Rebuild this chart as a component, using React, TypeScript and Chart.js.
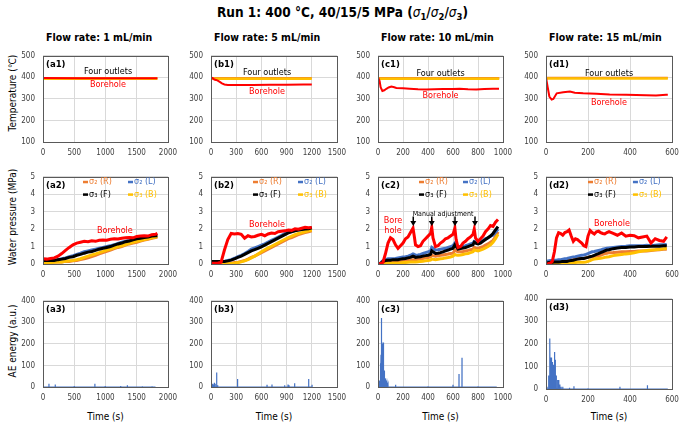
import React, { useEffect, useRef } from "react";
import { Chart, registerables } from "chart.js";

Chart.register(...registerables);

const FONT = '"DejaVu Sans Condensed", "DejaVu Sans", sans-serif';
const RED = "#FF0000";
const ORANGE = "#ED7D31";
const BLUE = "#4472C4";
const BLACK = "#000000";
const GOLD = "#FFC000";

// ---------------- Row 1: temperature (°C) ----------------
const a1OutletT = [0, 1830];
const a1OutletOrange = [396, 396];
const a1OutletGold = [394, 394];
const a1BoreT = [0, 600, 1200, 1830];
const a1Bore = [397, 396, 396, 396];

const b1OutletT = [0, 1200];
const b1OutletOrange = [397, 397];
const b1OutletGold = [394, 394];
const b1BoreT = [0, 20, 40, 60, 80, 100, 130, 160, 200, 300, 500, 700, 900, 1100, 1200];
const b1Bore = [400, 396, 390, 388, 385, 380, 372, 367, 365, 365, 365, 366, 366, 367, 367];

const c1OutletT = [0, 970];
const c1OutletOrange = [397, 397];
const c1OutletGold = [394, 394];
const c1BoreT = [0, 13, 21, 35, 50, 67, 85, 107, 130, 147, 200, 253, 320, 387, 450, 520, 600, 653, 720, 787, 850, 920, 968];
const c1Bore = [400, 383, 354, 337, 340, 347, 353, 357, 354, 351, 349, 347, 345, 344, 345, 346, 346, 347, 345, 344, 346, 347, 347];

const d1OutletT = [0, 580];
const d1OutletOrange = [398, 398];
const d1OutletGold = [395, 395];
const d1BoreT = [0, 8, 16, 27, 35, 51, 82, 114, 137, 177, 240, 303, 382, 477, 524, 572, 580];
const d1Bore = [400, 354, 311, 297, 300, 326, 331, 334, 329, 326, 324, 320, 319, 317, 316, 319, 319];

// ---------------- Row 2: water pressure (MPa) ----------------
const a2T = [0, 60, 120, 180, 240, 300, 360, 420, 480, 540, 600, 660, 720, 780, 840, 900, 960, 1020, 1080, 1140, 1200, 1260, 1320, 1380, 1440, 1500, 1560, 1620, 1680, 1740, 1800, 1830];
const a2Bore = [0.3, 0.28, 0.32, 0.35, 0.45, 0.6, 0.78, 0.95, 1.1, 1.2, 1.25, 1.3, 1.28, 1.33, 1.3, 1.36, 1.38, 1.36, 1.42, 1.45, 1.43, 1.48, 1.5, 1.52, 1.5, 1.58, 1.6, 1.62, 1.6, 1.68, 1.7, 1.75];
const a2S3F = [0.2, 0.2, 0.22, 0.2, 0.25, 0.28, 0.32, 0.38, 0.42, 0.5, 0.55, 0.62, 0.68, 0.72, 0.78, 0.85, 0.9, 0.95, 1.0, 1.08, 1.15, 1.2, 1.28, 1.32, 1.38, 1.45, 1.48, 1.52, 1.55, 1.6, 1.62, 1.62];
const a2S2L = [0.18, 0.18, 0.2, 0.2, 0.25, 0.3, 0.35, 0.42, 0.48, 0.55, 0.62, 0.7, 0.75, 0.8, 0.85, 0.9, 0.95, 1.0, 1.05, 1.1, 1.18, 1.25, 1.3, 1.35, 1.4, 1.45, 1.5, 1.55, 1.58, 1.62, 1.65, 1.65];
const a2S2R = [0.08, 0.1, 0.1, 0.12, 0.12, 0.12, 0.15, 0.15, 0.18, 0.2, 0.25, 0.3, 0.35, 0.42, 0.5, 0.58, 0.65, 0.72, 0.8, 0.88, 0.95, 1.0, 1.08, 1.15, 1.2, 1.25, 1.32, 1.38, 1.42, 1.48, 1.52, 1.55];
const a2S3B = [0.02, 0.05, 0.08, 0.1, 0.12, 0.12, 0.15, 0.18, 0.2, 0.25, 0.3, 0.38, 0.45, 0.52, 0.58, 0.65, 0.72, 0.8, 0.85, 0.92, 1.0, 1.05, 1.12, 1.18, 1.25, 1.3, 1.35, 1.4, 1.45, 1.5, 1.55, 1.58];

const b2T = [0, 40, 80, 120, 160, 200, 240, 280, 320, 360, 400, 440, 480, 520, 560, 600, 640, 680, 720, 760, 800, 840, 880, 920, 960, 1000, 1040, 1080, 1120, 1160, 1200];
const b2Bore = [0.05, 0.05, 0.05, 0.1, 0.8, 1.4, 1.75, 1.72, 1.75, 1.7, 1.48, 1.62, 1.55, 1.58, 1.65, 1.7, 1.62, 1.72, 1.78, 1.75, 1.85, 1.88, 1.9, 1.95, 1.93, 2.02, 2.0, 2.05, 2.1, 2.08, 2.1];
const b2S3F = [0.15, 0.15, 0.15, 0.15, 0.15, 0.18, 0.22, 0.3, 0.38, 0.45, 0.55, 0.65, 0.75, 0.82, 0.9, 0.98, 1.08, 1.18, 1.28, 1.38, 1.48, 1.58, 1.68, 1.78, 1.85, 1.9, 1.95, 1.98, 2.0, 2.02, 2.08];
const b2S2L = [0.12, 0.12, 0.12, 0.12, 0.15, 0.2, 0.25, 0.33, 0.42, 0.5, 0.6, 0.72, 0.85, 0.92, 1.0, 1.08, 1.15, 1.25, 1.35, 1.45, 1.55, 1.65, 1.75, 1.82, 1.88, 1.92, 1.95, 1.98, 2.0, 2.02, 2.05];
const b2S2R = [0.05, 0.05, 0.05, 0.05, 0.05, 0.05, 0.05, 0.08, 0.1, 0.15, 0.2, 0.28, 0.38, 0.45, 0.55, 0.65, 0.75, 0.85, 0.95, 1.05, 1.15, 1.25, 1.35, 1.45, 1.52, 1.6, 1.68, 1.75, 1.8, 1.85, 1.9];
const b2S3B = [0.0, 0.0, 0.0, 0.0, 0.0, 0.02, 0.03, 0.05, 0.08, 0.12, 0.18, 0.25, 0.35, 0.45, 0.58, 0.7, 0.82, 0.92, 1.02, 1.12, 1.22, 1.32, 1.42, 1.52, 1.6, 1.68, 1.75, 1.8, 1.85, 1.9, 1.95];

const c2T = [0, 20, 40, 60, 80, 100, 120, 140, 160, 180, 200, 220, 240, 260, 280, 290, 300, 320, 340, 360, 380, 400, 420, 430, 440, 460, 480, 500, 520, 540, 560, 580, 600, 615, 625, 640, 660, 680, 700, 720, 740, 760, 770, 780, 800, 820, 840, 860, 880, 900, 920, 940, 960];
const c2Bore = [0.02, 0.02, 0.1, 0.6, 1.2, 1.5, 1.4, 1.1, 0.9, 1.05, 1.2, 1.45, 1.55, 1.8, 2.05, 1.6, 1.1, 1.0, 1.05, 1.3, 1.45, 1.6, 1.75, 2.1, 1.5, 1.0, 1.05, 1.2, 1.3, 1.45, 1.5, 1.6, 1.7, 2.05, 1.4, 0.95, 1.0, 1.2, 1.3, 1.45, 1.55, 1.7, 2.0, 1.5, 1.3, 1.45, 1.6, 1.85, 2.0, 2.2, 2.15, 2.4, 2.55];
const c2S3F = [0.0, 0.02, 0.15, 0.2, 0.22, 0.22, 0.25, 0.25, 0.25, 0.28, 0.3, 0.32, 0.35, 0.38, 0.45, 0.42, 0.38, 0.4, 0.42, 0.45, 0.48, 0.5, 0.55, 0.75, 0.7, 0.6, 0.62, 0.65, 0.7, 0.75, 0.8, 0.85, 0.9, 1.1, 1.0, 0.85, 0.88, 0.92, 0.95, 1.0, 1.05, 1.1, 1.25, 1.2, 1.15, 1.2, 1.3, 1.4, 1.5, 1.6, 1.75, 1.95, 2.15];
const c2S2L = [0.02, 0.05, 0.2, 0.25, 0.3, 0.3, 0.3, 0.32, 0.35, 0.38, 0.4, 0.42, 0.45, 0.5, 0.58, 0.55, 0.5, 0.52, 0.55, 0.6, 0.65, 0.7, 0.75, 0.95, 0.9, 0.8, 0.82, 0.85, 0.88, 0.9, 0.95, 1.0, 1.05, 1.2, 1.1, 1.0, 1.0, 1.02, 1.05, 1.1, 1.15, 1.2, 1.3, 1.28, 1.25, 1.3, 1.35, 1.45, 1.5, 1.6, 1.65, 1.8, 2.0];
const c2S2R = [0.02, 0.03, 0.08, 0.1, 0.1, 0.1, 0.12, 0.13, 0.15, 0.16, 0.18, 0.19, 0.2, 0.22, 0.25, 0.25, 0.25, 0.27, 0.3, 0.32, 0.35, 0.37, 0.4, 0.5, 0.48, 0.45, 0.47, 0.5, 0.52, 0.55, 0.57, 0.6, 0.62, 0.8, 0.75, 0.7, 0.7, 0.72, 0.75, 0.78, 0.82, 0.85, 0.95, 0.92, 0.9, 0.95, 1.0, 1.08, 1.15, 1.25, 1.35, 1.55, 1.85];
const c2S3B = [0.0, 0.0, 0.02, 0.02, 0.03, 0.04, 0.05, 0.05, 0.05, 0.06, 0.08, 0.09, 0.1, 0.11, 0.12, 0.12, 0.12, 0.13, 0.15, 0.16, 0.18, 0.2, 0.22, 0.28, 0.27, 0.25, 0.27, 0.3, 0.32, 0.35, 0.37, 0.4, 0.45, 0.55, 0.52, 0.5, 0.52, 0.55, 0.58, 0.6, 0.65, 0.7, 0.8, 0.78, 0.75, 0.8, 0.85, 0.92, 1.0, 1.1, 1.25, 1.45, 1.7];

const d2T = [0, 10, 20, 30, 40, 50, 60, 70, 80, 90, 100, 110, 120, 130, 140, 150, 160, 170, 180, 190, 200, 210, 220, 230, 240, 250, 260, 270, 280, 290, 300, 320, 340, 360, 380, 400, 420, 440, 460, 480, 500, 520, 540, 560, 575];
const d2Bore = [0.0, 0.02, 0.05, 0.15, 0.7, 1.5, 1.8, 1.75, 1.65, 1.8, 1.85, 1.95, 1.6, 1.3, 1.45, 1.4, 1.3, 1.2, 1.05, 1.0, 1.6, 1.92, 1.8, 1.72, 1.85, 1.88, 1.8, 1.75, 1.72, 1.8, 1.85, 1.75, 1.65, 1.78, 1.6, 1.65, 1.62, 1.5, 1.55, 1.6, 1.2, 1.45, 1.35, 1.3, 1.55];
const d2S2L = [0.15, 0.18, 0.2, 0.2, 0.22, 0.22, 0.25, 0.25, 0.28, 0.3, 0.32, 0.35, 0.38, 0.4, 0.42, 0.45, 0.48, 0.5, 0.52, 0.55, 0.6, 0.65, 0.7, 0.72, 0.75, 0.78, 0.8, 0.85, 0.88, 0.9, 0.92, 0.95, 0.98, 1.0, 1.02, 1.05, 1.05, 1.05, 1.05, 1.08, 1.05, 1.08, 1.1, 1.1, 1.12];
const d2S3F = [0.05, 0.08, 0.1, 0.1, 0.12, 0.12, 0.12, 0.13, 0.15, 0.15, 0.15, 0.18, 0.2, 0.22, 0.25, 0.28, 0.3, 0.32, 0.32, 0.35, 0.38, 0.42, 0.45, 0.5, 0.55, 0.6, 0.65, 0.7, 0.75, 0.8, 0.82, 0.88, 0.92, 0.95, 0.95, 0.98, 0.98, 1.0, 1.0, 1.0, 1.02, 1.02, 1.02, 1.05, 1.05];
const d2S2R = [0.05, 0.06, 0.08, 0.1, 0.12, 0.15, 0.18, 0.2, 0.2, 0.22, 0.22, 0.25, 0.25, 0.27, 0.28, 0.3, 0.3, 0.32, 0.32, 0.35, 0.38, 0.4, 0.42, 0.44, 0.45, 0.48, 0.5, 0.55, 0.6, 0.62, 0.65, 0.66, 0.68, 0.7, 0.7, 0.72, 0.72, 0.74, 0.75, 0.75, 0.78, 0.8, 0.82, 0.85, 0.85];
const d2S3B = [0.0, 0.0, 0.02, 0.03, 0.03, 0.04, 0.05, 0.05, 0.05, 0.05, 0.06, 0.07, 0.08, 0.08, 0.09, 0.1, 0.1, 0.1, 0.1, 0.12, 0.15, 0.2, 0.25, 0.28, 0.3, 0.32, 0.33, 0.35, 0.38, 0.4, 0.42, 0.48, 0.52, 0.55, 0.58, 0.6, 0.65, 0.7, 0.75, 0.78, 0.8, 0.82, 0.85, 0.88, 0.9];

// ---------------- Row 3: AE energy (a.u.) ----------------
const a3End = 1800;
const a3Time = [95, 196, 500, 830, 995, 1243, 1350, 1590, 1745];
const a3Energy = [15, 12, 5, 15, 5, 5, 8, 4, 4];

const b3End = 1200;
const b3Time = [10, 20, 30, 40, 50, 63, 71, 80, 310, 321, 667, 726, 877, 917, 929, 996, 1163, 1203];
const b3Energy = [10, 15, 12, 20, 15, 67, 20, 8, 37, 10, 10, 12, 8, 12, 8, 17, 37, 10];

const c3End = 950;
const c3Time = [10, 15, 18, 21, 24, 27, 29, 32, 35, 38, 40, 43, 45, 48, 50, 53, 56, 61, 66, 72, 80, 141, 400, 600, 648, 672, 800];
const c3Energy = [10, 30, 60, 110, 150, 200, 320, 180, 200, 150, 206, 120, 100, 60, 77, 60, 40, 40, 30, 20, 10, 10, 3, 10, 60, 136, 3];

const d3End = 580;
const d3Time = [5, 11, 14, 17, 19, 22, 24, 27, 29, 32, 34, 37, 40, 43, 45, 48, 50, 54, 57, 61, 66, 72, 80, 112, 133, 200, 352, 483];
const d3Energy = [10, 60, 40, 100, 224, 130, 140, 90, 120, 80, 107, 60, 164, 100, 130, 60, 60, 40, 35, 40, 20, 10, 10, 5, 12, 3, 10, 17];

// ---------------- helpers ----------------
const pts = (t: number[], v: number[]) => t.map((x, i) => ({ x, y: v[i] }));

const spikes = (t: number[], v: number[], end: number) => {
  const d = end / 3000;
  const out: { x: number; y: number }[] = [{ x: 0, y: 0 }];
  t.forEach((x, i) => {
    out.push({ x: x - d, y: 0 }, { x, y: v[i] }, { x: x + d, y: 0 });
  });
  out.push({ x: end, y: 0 });
  return out;
};

const line = (data: any[], color: string, width: number, order: number) => ({
  data,
  borderColor: color,
  backgroundColor: color,
  borderWidth: width,
  pointRadius: 0,
  tension: 0,
  order,
});

const tempSets = (oT: number[], oOr: number[], oGo: number[], bT: number[], b: number[]) => [
  line(pts(bT, b), RED, 2, 0),
  line(pts(oT, oGo), GOLD, 2.5, 1),
  line(pts(oT, oOr), ORANGE, 2, 2),
];

const presSets = (t: number[], bore: number[], f: number[], l: number[], r: number[], b: number[]) => [
  line(pts(t, bore), RED, 3, 0),
  line(pts(t, f), BLACK, 3, 1),
  line(pts(t, b), GOLD, 3, 2),
  line(pts(t, l), BLUE, 3, 3),
  line(pts(t, r), ORANGE, 3, 4),
];

const legendNotes = (x1: number, x2: number) => [
  { t: "leg", x: x1, y: 4.7, text: "σ₂ (R)", color: ORANGE, textColor: ORANGE },
  { t: "leg", x: x2, y: 4.7, text: "σ₂ (L)", color: BLUE, textColor: BLUE },
  { t: "leg", x: x1, y: 3.98, text: "σ₃ (F)", color: BLACK, textColor: BLACK },
  { t: "leg", x: x2, y: 3.98, text: "σ₃ (B)", color: GOLD, textColor: GOLD },
];

// ---------------- annotation plugin ----------------
const notesPlugin = {
  id: "panelNotes",
  afterDatasetsDraw(chart: any, _args: any, opts: any) {
    const { ctx, chartArea: a, scales } = chart;
    const xs = scales.x;
    const ys = scales.y;
    ctx.save();
    const L = Math.round(a.left);
    const T = Math.round(a.top);
    const R = Math.round(a.right);
    const B = Math.round(a.bottom);
    ctx.strokeStyle = "#595959";
    ctx.lineWidth = 1;
    ctx.strokeRect(L + 0.5, T + 0.5, R - L, B - T);
    const items = (opts && opts.items) || [];
    for (const it of items) {
      if (it.t === "label") {
        ctx.font = `bold 9.5px ${FONT}`;
        ctx.fillStyle = "#000";
        ctx.textAlign = "left";
        ctx.textBaseline = "middle";
        ctx.fillText(it.text, L + 3, T + 9);
      } else if (it.t === "text") {
        ctx.font = `${it.size || 9}px ${FONT}`;
        ctx.fillStyle = it.color;
        ctx.textAlign = "center";
        ctx.textBaseline = "middle";
        ctx.fillText(it.text, xs.getPixelForValue(it.x), ys.getPixelForValue(it.y));
      } else if (it.t === "leg") {
        const px = xs.getPixelForValue(it.x);
        const py = ys.getPixelForValue(it.y);
        ctx.strokeStyle = it.color;
        ctx.lineWidth = 2.5;
        ctx.beginPath();
        ctx.moveTo(px, py);
        ctx.lineTo(px + 5, py);
        ctx.stroke();
        ctx.font = `9px ${FONT}`;
        ctx.fillStyle = it.textColor;
        ctx.textAlign = "left";
        ctx.textBaseline = "middle";
        ctx.fillText(it.text, px + 6, py);
      } else if (it.t === "arrow") {
        const px = xs.getPixelForValue(it.x);
        const p1 = ys.getPixelForValue(it.y1);
        const p2 = ys.getPixelForValue(it.y2);
        ctx.strokeStyle = "#000";
        ctx.fillStyle = "#000";
        ctx.lineWidth = 1.5;
        ctx.beginPath();
        ctx.moveTo(px, p1);
        ctx.lineTo(px, p2 - 4);
        ctx.stroke();
        ctx.beginPath();
        ctx.moveTo(px - 3, p2 - 5);
        ctx.lineTo(px + 3, p2 - 5);
        ctx.lineTo(px, p2);
        ctx.closePath();
        ctx.fill();
      }
    }
    ctx.restore();
  },
};

// ---------------- panel component ----------------
type Box = { l: number; t: number; r: number; b: number };

const YW = 40;
const XH = 22;
const PT = 6;
const PR = 18;

function Panel(props: {
  box: Box;
  xMax: number;
  xStep: number;
  yMin: number;
  yMax: number;
  yStep: number;
  datasets: any[];
  notes: any[];
}) {
  const ref = useRef<HTMLCanvasElement | null>(null);
  const { box } = props;
  const W = box.r - box.l + YW + PR;
  const H = box.b - box.t + PT + XH;
  useEffect(() => {
    if (!ref.current) return;
    const tickFont = { family: FONT, size: 8 };
    const plain = (v: any) => String(v);
    const chart = new Chart(ref.current, {
      type: "line",
      data: { datasets: props.datasets },
      options: {
        responsive: false,
        animation: false,
        layout: { padding: { left: 0, right: PR, top: PT, bottom: 0 } },
        plugins: {
          legend: { display: false },
          tooltip: { enabled: false },
          panelNotes: { items: props.notes },
        } as any,
        scales: {
          x: {
            type: "linear",
            min: 0,
            max: props.xMax,
            afterFit: (s: any) => {
              s.height = XH;
            },
            ticks: {
              stepSize: props.xStep,
              autoSkip: false,
              maxRotation: 0,
              padding: 6,
              color: "#404040",
              font: tickFont,
              callback: plain,
            },
            grid: { color: "#d9d9d9", drawTicks: false },
            border: { display: false },
          },
          y: {
            type: "linear",
            min: props.yMin,
            max: props.yMax,
            afterFit: (s: any) => {
              s.width = YW;
            },
            ticks: {
              stepSize: props.yStep,
              autoSkip: false,
              padding: 8,
              color: "#404040",
              font: tickFont,
              callback: plain,
            },
            grid: { color: "#d9d9d9", drawTicks: false },
            border: { display: false },
          },
        },
      } as any,
      plugins: [notesPlugin as any],
    });
    return () => chart.destroy();
  }, []);
  return (
    <canvas
      ref={ref}
      width={W}
      height={H}
      style={{ position: "absolute", left: box.l - YW, top: box.t - PT, width: W, height: H, display: "block" }}
    />
  );
}

// ---------------- layout ----------------
const COL_L = [43, 211, 378, 546];
const COL_R = [168, 337, 503, 672];

export default function App() {
  const boxes = {
    a1: { l: COL_L[0], r: COL_R[0], t: 49, b: 142 },
    b1: { l: COL_L[1], r: COL_R[1], t: 49, b: 142 },
    c1: { l: COL_L[2], r: COL_R[2], t: 49, b: 142 },
    d1: { l: COL_L[3], r: COL_R[3], t: 49, b: 142 },
    a2: { l: COL_L[0], r: COL_R[0], t: 170, b: 264 },
    b2: { l: COL_L[1], r: COL_R[1], t: 170, b: 264 },
    c2: { l: COL_L[2], r: COL_R[2], t: 170, b: 264 },
    d2: { l: COL_L[3], r: COL_R[3], t: 170, b: 264 },
    a3: { l: COL_L[0], r: COL_R[0], t: 294, b: 387 },
    b3: { l: COL_L[1], r: COL_R[1], t: 294, b: 387 },
    c3: { l: COL_L[2], r: COL_R[2], t: 294, b: 387 },
    d3: { l: COL_L[3], r: COL_R[3], t: 292, b: 389 },
  };

  const tempNotes = (lab: string, x: number, yo: number, yb: number) => [
    { t: "label", text: lab },
    { t: "text", x, y: yo, text: "Four outlets", color: "#000" },
    { t: "text", x, y: yb, text: "Borehole", color: RED },
  ];

  const aeSet = (t: number[], v: number[], end: number) => [line(spikes(t, v, end), BLUE, 1.2, 0)];

  const colTitles = ["Flow rate: 1 mL/min", "Flow rate: 5 mL/min", "Flow rate: 10 mL/min", "Flow rate: 15 mL/min"];

  const text: React.CSSProperties = { position: "absolute", fontFamily: FONT, color: "#000", whiteSpace: "nowrap" };
  const rot = (cx: number, cy: number): React.CSSProperties => ({
    ...text,
    left: cx,
    top: cy,
    fontSize: 10,
    transform: "translate(-50%, -50%) rotate(-90deg)",
  });
  const sub: React.CSSProperties = { fontSize: "0.7em", verticalAlign: "-0.3em", lineHeight: 0 };

  return (
    <div style={{ position: "absolute", left: 0, top: 0, width: 685, height: 427, background: "#fff", overflow: "hidden" }}>
      <div style={{ ...text, left: 342.5, top: 12, transform: "translate(-50%, -50%)", fontSize: 13.5, fontWeight: "bold" }}>
        Run 1: 400 °C, 40/15/5 MPa (
        <i style={{ fontWeight: "normal" }}>σ</i>
        <span style={sub}>1</span>/<i style={{ fontWeight: "normal" }}>σ</i>
        <span style={sub}>2</span>/<i style={{ fontWeight: "normal" }}>σ</i>
        <span style={sub}>3</span>)
      </div>
      {colTitles.map((s, i) => (
        <div key={s} style={{ ...text, left: COL_L[i] + 3, top: 37, transform: "translateY(-50%)", fontSize: 10.5, fontWeight: "bold" }}>
          {s}
        </div>
      ))}
      <div style={rot(12, 93)}>Temperature (℃)</div>
      <div style={rot(12, 217)}>Water pressure (MPa)</div>
      <div style={rot(12, 341)}>AE energy (a.u.)</div>
      {COL_L.map((l, i) => (
        <div key={"t" + i} style={{ ...text, left: (l + COL_R[i]) / 2, top: 416, transform: "translate(-50%, -50%)", fontSize: 10 }}>
          Time (s)
        </div>
      ))}

      <Panel box={boxes.a1} xMax={2000} xStep={500} yMin={100} yMax={500} yStep={100}
        datasets={tempSets(a1OutletT, a1OutletOrange, a1OutletGold, a1BoreT, a1Bore)}
        notes={tempNotes("(a1)", 1040, 427, 364)} />
      <Panel box={boxes.b1} xMax={1500} xStep={300} yMin={100} yMax={500} yStep={100}
        datasets={tempSets(b1OutletT, b1OutletOrange, b1OutletGold, b1BoreT, b1Bore)}
        notes={tempNotes("(b1)", 667, 420, 335)} />
      <Panel box={boxes.c1} xMax={1000} xStep={200} yMin={100} yMax={500} yStep={100}
        datasets={tempSets(c1OutletT, c1OutletOrange, c1OutletGold, c1BoreT, c1Bore)}
        notes={tempNotes("(c1)", 500, 418, 313)} />
      <Panel box={boxes.d1} xMax={600} xStep={200} yMin={100} yMax={500} yStep={100}
        datasets={tempSets(d1OutletT, d1OutletOrange, d1OutletGold, d1BoreT, d1Bore)}
        notes={tempNotes("(d1)", 300, 418, 282)} />

      <Panel box={boxes.a2} xMax={2000} xStep={500} yMin={0} yMax={5} yStep={1}
        datasets={presSets(a2T, a2Bore, a2S3F, a2S2L, a2S2R, a2S3B)}
        notes={[{ t: "label", text: "(a2)" }, ...legendNotes(640, 1360), { t: "text", x: 1150, y: 1.9, text: "Borehole", color: RED }]} />
      <Panel box={boxes.b2} xMax={1500} xStep={300} yMin={0} yMax={5} yStep={1}
        datasets={presSets(b2T, b2Bore, b2S3F, b2S2L, b2S2R, b2S3B)}
        notes={[{ t: "label", text: "(b2)" }, ...legendNotes(500, 1036), { t: "text", x: 667, y: 2.28, text: "Borehole", color: RED }]} />
      <Panel box={boxes.c2} xMax={1000} xStep={200} yMin={0} yMax={5} yStep={1}
        datasets={presSets(c2T, c2Bore, c2S3F, c2S2L, c2S2R, c2S3B)}
        notes={[
          { t: "label", text: "(c2)" },
          ...legendNotes(328, 680),
          { t: "text", x: 120, y: 2.5, text: "Bore", color: RED },
          { t: "text", x: 120, y: 1.93, text: "hole", color: RED },
          { t: "text", x: 520, y: 2.88, text: "Manual adjustment", color: "#000", size: 7 },
          { t: "arrow", x: 282, y1: 2.72, y2: 2.18 },
          { t: "arrow", x: 430, y1: 2.72, y2: 2.18 },
          { t: "arrow", x: 616, y1: 2.72, y2: 2.18 },
          { t: "arrow", x: 776, y1: 2.72, y2: 2.18 },
        ]} />
      <Panel box={boxes.d2} xMax={600} xStep={200} yMin={0} yMax={5} yStep={1}
        datasets={presSets(d2T, d2Bore, d2S3F, d2S2L, d2S2R, d2S3B)}
        notes={[{ t: "label", text: "(d2)" }, ...legendNotes(200, 414), { t: "text", x: 314, y: 2.34, text: "Borehole", color: RED }]} />

      <Panel box={boxes.a3} xMax={2000} xStep={500} yMin={0} yMax={400} yStep={100}
        datasets={aeSet(a3Time, a3Energy, a3End)} notes={[{ t: "label", text: "(a3)" }]} />
      <Panel box={boxes.b3} xMax={1500} xStep={300} yMin={0} yMax={400} yStep={100}
        datasets={aeSet(b3Time, b3Energy, b3End)} notes={[{ t: "label", text: "(b3)" }]} />
      <Panel box={boxes.c3} xMax={1000} xStep={200} yMin={0} yMax={400} yStep={100}
        datasets={aeSet(c3Time, c3Energy, c3End)} notes={[{ t: "label", text: "(c3)" }]} />
      <Panel box={boxes.d3} xMax={600} xStep={200} yMin={0} yMax={400} yStep={100}
        datasets={aeSet(d3Time, d3Energy, d3End)} notes={[{ t: "label", text: "(d3)" }]} />
    </div>
  );
}
